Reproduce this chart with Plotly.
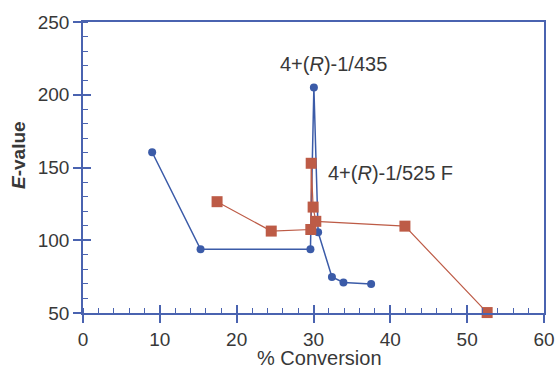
import plotly.graph_objects as go

# Data
blue_x = [9.0, 15.3, 29.6, 30.05, 30.6, 32.4, 33.9, 37.5]
blue_y = [160.5, 93.8, 93.8, 205.0, 105.5, 74.8, 71.0, 70.0]
red_x = [17.45, 24.5, 29.65, 29.7, 29.95, 30.3, 41.9, 52.6]
red_y = [126.5, 106.3, 107.4, 152.9, 122.8, 113.0, 109.7, 50.3]
label_blue = "4+(<i>R</i>)-1/435"
label_red = "4+(<i>R</i>)-1/525 F"
x_title = "% Conversion"
y_title = "<b><i>E</i>-value</b>"

BLUE = "#3b5ba8"
RED = "#bd5b46"
AX = "#4a63b0"
FONT = "Liberation Sans, Arial, Helvetica, sans-serif"
TXT = "#383838"
FS = 19

fig = go.Figure()
fig.add_trace(go.Scatter(x=blue_x, y=blue_y, mode="lines+markers",
                         line=dict(color=BLUE, width=1.5),
                         marker=dict(symbol="circle", size=8, color=BLUE),
                         cliponaxis=False, showlegend=False))
fig.add_trace(go.Scatter(x=red_x, y=red_y, mode="lines+markers",
                         line=dict(color=RED, width=1.2),
                         marker=dict(symbol="square", size=11, color=RED),
                         cliponaxis=False, showlegend=False))

fig.add_annotation(x=32.55, y=221, text=label_blue, showarrow=False,
                   xanchor="center", yanchor="middle",
                   font=dict(family=FONT, size=FS + 1, color=TXT))
fig.add_annotation(x=31.6, y=146, text=label_red, showarrow=False,
                   xanchor="left", yanchor="middle",
                   font=dict(family=FONT, size=FS + 1, color=TXT))

# Axis titles as annotations so they can sit where the reference has them
fig.add_annotation(xref="paper", yref="paper", x=0.512, y=0, yshift=-45,
                   text=x_title, showarrow=False, xanchor="center", yanchor="middle",
                   font=dict(family=FONT, size=FS + 1, color=TXT))
fig.add_annotation(xref="paper", yref="paper", x=0, xshift=-64, y=0.543,
                   text=y_title, showarrow=False, textangle=-90,
                   xanchor="center", yanchor="middle",
                   font=dict(family=FONT, size=FS, color=TXT))

common = dict(showgrid=False, zeroline=False, showline=True, linecolor=AX,
              linewidth=1.5, mirror=True, ticks="outside", ticklen=8,
              tickwidth=1.5, tickcolor=AX, automargin=False,
              tickfont=dict(family=FONT, size=FS, color=TXT))

fig.update_xaxes(range=[0, 60], dtick=10, tick0=0,
                 minor=dict(dtick=2, ticks="inside", ticklen=5, tickcolor=AX, tickwidth=1),
                 **common)
fig.update_yaxes(range=[50, 250], dtick=50, tick0=0,
                 minor=dict(dtick=10, ticks="inside", ticklen=5, tickcolor=AX, tickwidth=1),
                 **common)

# Overlay axes to draw the inner halves of the major ticks
fig.update_layout(
    xaxis2=dict(overlaying="x", range=[0, 60], dtick=10, tick0=0, ticks="inside",
                ticklen=8, tickwidth=1.5, tickcolor=AX, showticklabels=False,
                showgrid=False, zeroline=False, showline=False, side="bottom",
                automargin=False),
    yaxis2=dict(overlaying="y", range=[50, 250], dtick=50, tick0=0, ticks="inside",
                ticklen=8, tickwidth=1.5, tickcolor=AX, showticklabels=False,
                showgrid=False, zeroline=False, showline=False, side="left",
                automargin=False),
)
fig.add_trace(go.Scatter(x=[None], y=[None], xaxis="x2", yaxis="y2",
                         showlegend=False, hoverinfo="skip"))

fig.update_layout(width=556, height=369,
                  margin=dict(l=83, r=12, t=22, b=56),
                  paper_bgcolor="white", plot_bgcolor="white",
                  font=dict(family=FONT, color=TXT))

# Remove the default page margin so the figure fills the window exactly
fig.write_html("out.html", config={"displayModeBar": False},
               post_script="document.body.style.margin='0';document.body.style.overflow='hidden';")
